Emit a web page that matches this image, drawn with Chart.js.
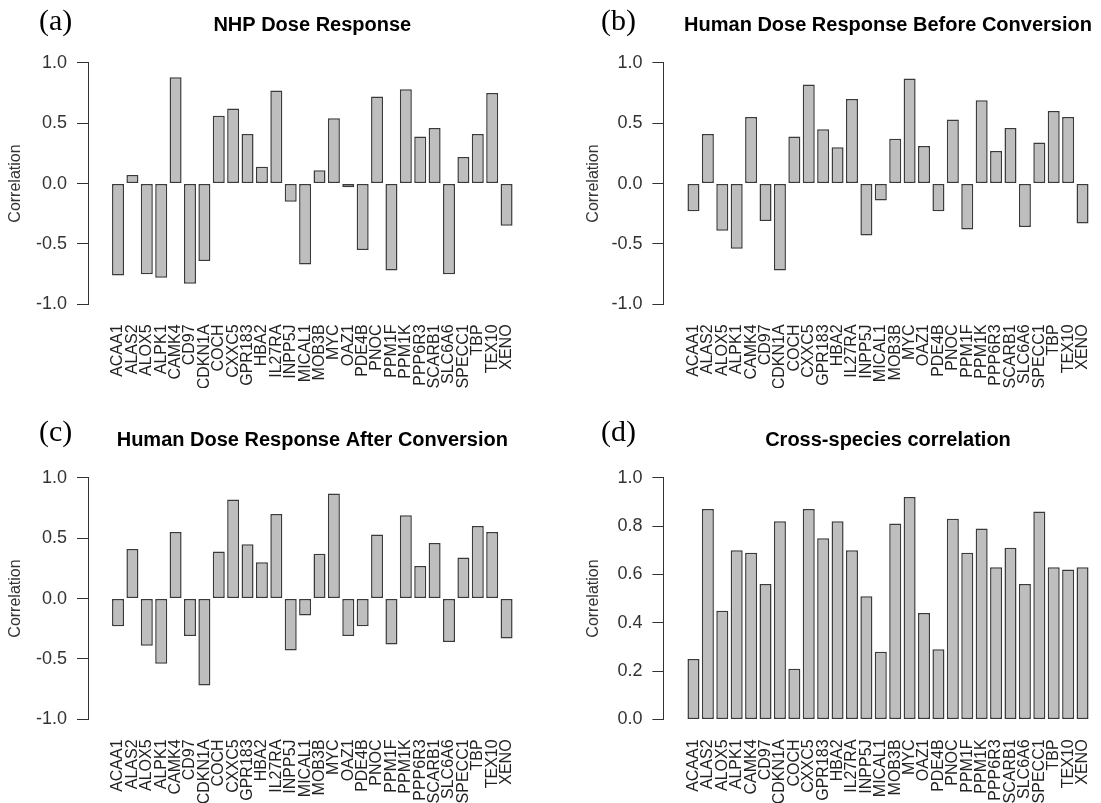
<!DOCTYPE html>
<html>
<head>
    <title>Dose response correlations</title>
    <script src="https://cdn.jsdelivr.net/npm/chart.js"></script>
    <style>
        html, body { margin: 0; padding: 0; background: #fff; overflow: hidden; }
        body { width: 1101px; height: 803px; position: relative; }
        .panel { position: absolute; height: 388px; }
        .tag { position: absolute; font-family: 'Liberation Serif', 'Times New Roman', serif; font-size: 30px; line-height: 30px; color: #000; }
    </style>
</head>
<body>
    <div class="panel" style="left:0; top:0; width:550px;"><canvas id="chartA"></canvas></div>
    <div class="panel" style="left:550px; top:0; width:576px;"><canvas id="chartB"></canvas></div>
    <div class="panel" style="left:0; top:415px; width:550px;"><canvas id="chartC"></canvas></div>
    <div class="panel" style="left:550px; top:415px; width:576px;"><canvas id="chartD"></canvas></div>
    <div class="tag" style="left:39px; top:5px;">(a)</div>
    <div class="tag" style="left:601px; top:5px;">(b)</div>
    <div class="tag" style="left:39px; top:416px;">(c)</div>
    <div class="tag" style="left:601px; top:416px;">(d)</div>
    <script>
        const genes = ['ACAA1', 'ALAS2', 'ALOX5', 'ALPK1', 'CAMK4', 'CD97', 'CDKN1A', 'COCH', 'CXXC5', 'GPR183',
            'HBA2', 'IL27RA', 'INPP5J', 'MICAL1', 'MOB3B', 'MYC', 'OAZ1', 'PDE4B', 'PNOC', 'PPM1F',
            'PPM1K', 'PPP6R3', 'SCARB1', 'SLC6A6', 'SPECC1', 'TBP', 'TEX10', 'XENO'];

        const nhpDose = [-0.76, 0.07, -0.75, -0.78, 0.88, -0.83, -0.64, 0.56, 0.62, 0.41,
            0.14, 0.77, -0.15, -0.67, 0.11, 0.54, -0.03, -0.55, 0.72, -0.72,
            0.78, 0.39, 0.46, -0.75, 0.22, 0.41, 0.75, -0.35];

        const humanBefore = [-0.23, 0.41, -0.39, -0.54, 0.55, -0.31, -0.72, 0.39, 0.82, 0.45,
            0.30, 0.70, -0.43, -0.14, 0.37, 0.87, 0.31, -0.23, 0.53, -0.38,
            0.69, 0.27, 0.46, -0.36, 0.34, 0.60, 0.55, -0.33];

        const humanAfter = [-0.23, 0.41, -0.39, -0.54, 0.55, -0.31, -0.72, 0.39, 0.82, 0.45,
            0.30, 0.70, -0.43, -0.14, 0.37, 0.87, -0.31, -0.23, 0.53, -0.38,
            0.69, 0.27, 0.46, -0.36, 0.34, 0.60, 0.55, -0.33];

        const crossSpecies = [0.25, 0.87, 0.45, 0.70, 0.69, 0.56, 0.82, 0.21, 0.87, 0.75,
            0.82, 0.70, 0.51, 0.28, 0.81, 0.92, 0.44, 0.29, 0.83, 0.69,
            0.79, 0.63, 0.71, 0.56, 0.86, 0.63, 0.62, 0.63];

        const signedTicks = { min: -1, max: 1, step: 0.5 };
        const unitTicks = { min: 0, max: 1, step: 0.2 };

        // barplot layout: width 1, space 0.2, axis range padded by 4%
        const barSpace = 0.2;
        const slot = 1 + barSpace;
        const span = genes.length * slot;
        const pad = (span - barSpace) * 0.04;
        const centers = genes.map((g, i) => barSpace + 0.5 + i * slot);

        const sans = "'Liberation Sans', Arial, Helvetica, sans-serif";

        function drawPanel(id, title, values, range, axisWidth, labelPad) {
            const ctx = document.getElementById(id).getContext('2d');
            new Chart(ctx, {
                type: 'bar',
                data: {
                    datasets: [{
                        data: values.map((v, i) => ({ x: centers[i], y: v })),
                        backgroundColor: '#bebebe',
                        borderColor: '#3a3a3a',
                        borderWidth: 1.5,
                        borderSkipped: false,
                        categoryPercentage: 1,
                        barPercentage: 1 / slot,
                    }],
                },
                options: {
                    responsive: true,
                    maintainAspectRatio: false,
                    animation: false,
                    layout: { padding: { left: 0, right: 13.4, top: 0, bottom: 0 } },
                    plugins: {
                        legend: { display: false },
                        tooltip: { enabled: false },
                        title: {
                            display: true,
                            text: title,
                            fullSize: false,
                            color: '#000',
                            font: { family: sans, size: 20, weight: 'bold' },
                            padding: { top: 13, bottom: 25.7 },
                        },
                    },
                    scales: {
                        x: {
                            type: 'linear',
                            min: barSpace - pad,
                            max: span + pad,
                            grid: { display: false, drawTicks: false },
                            border: { display: false },
                            afterBuildTicks: axis => { axis.ticks = centers.map(v => ({ value: v })); },
                            afterFit: axis => { axis.height = 83.6; },
                            ticks: {
                                autoSkip: false,
                                maxRotation: 90,
                                minRotation: 90,
                                padding: 20,
                                color: '#222',
                                font: { family: sans, size: 16 },
                                callback: (value, index) => genes[index],
                            },
                        },
                        y: {
                            min: range.min,
                            max: range.max,
                            grid: { drawOnChartArea: false, drawTicks: true, tickLength: 11, color: '#333' },
                            border: { display: true, color: '#333', width: 1 },
                            afterFit: axis => { axis.width = axisWidth; },
                            title: {
                                display: true,
                                text: 'Correlation',
                                color: '#333',
                                font: { family: sans, size: 16 },
                                padding: { top: labelPad, bottom: 0 },
                            },
                            ticks: {
                                stepSize: range.step,
                                padding: 10,
                                color: '#333',
                                font: { family: sans, size: 18 },
                                callback: v => Number(v).toFixed(1),
                            },
                        },
                    },
                },
            });
        }

        drawPanel('chartA', 'NHP Dose Response', nhpDose, signedTicks, 88, 6);
        drawPanel('chartB', 'Human Dose Response Before Conversion', humanBefore, signedTicks, 113.4, 33.6);
        drawPanel('chartC', 'Human Dose Response After Conversion', humanAfter, signedTicks, 88, 6);
        drawPanel('chartD', 'Cross-species correlation', crossSpecies, unitTicks, 113.4, 33.6);
    </script>
</body>
</html>
